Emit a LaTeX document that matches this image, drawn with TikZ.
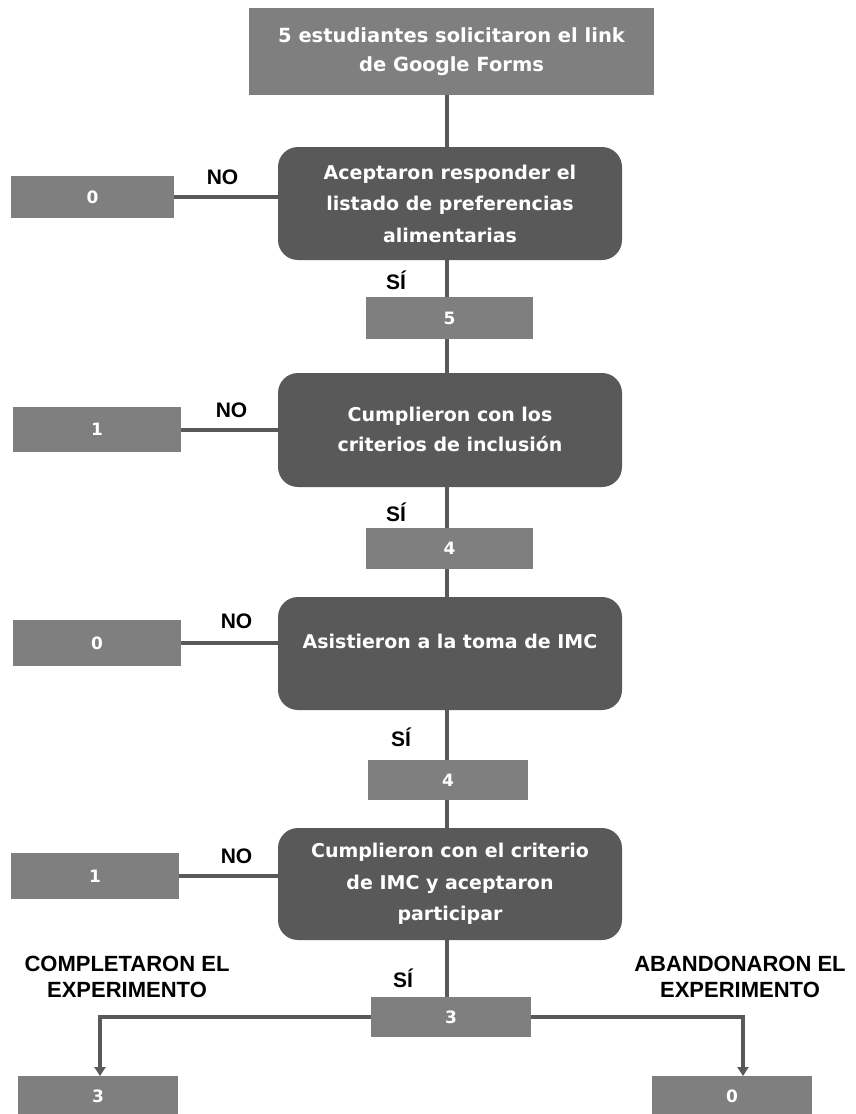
\documentclass[tikz,border=0pt]{standalone}
\usepackage{fontspec}
\setmainfont{DejaVu Sans}
\newfontfamily\arialfont{Liberation Sans}
\usetikzlibrary{arrows.meta}
\definecolor{boxgray}{HTML}{7F7F7F}
\definecolor{darkgray}{HTML}{595959}
\tikzset{
  lightbox/.style={fill=boxgray, draw=none, text=white, font=\bfseries\fontsize{17}{20}\selectfont, inner sep=0pt},
  topbox/.style={fill=boxgray, draw=none, text=white, font=\bfseries\fontsize{19.5}{29}\selectfont, align=center, inner sep=0pt},
  decision/.style={fill=darkgray, draw=none, rounded corners=20pt, text=white, font=\bfseries\fontsize{19}{31.5}\selectfont, align=center, inner sep=0pt},
  conn/.style={draw=darkgray, line width=4pt},
  lbl/.style={font=\arialfont\bfseries\fontsize{21}{24}\selectfont, text=black, inner sep=0pt},
  outlbl/.style={font=\arialfont\bfseries\fontsize{22}{26}\selectfont, text=black, align=center, inner sep=0pt},
  tip/.style={-{Triangle[length=9pt,width=11pt]}},
}
\newcommand{\pbox}[6]{% name, x1, y1, x2, y2, style
  \node[#6, minimum width={#4-#2}, minimum height={#5-#3}] (#1) at ({(#2+#4)/2},{(#3+#5)/2})}
\begin{document}
\begin{tikzpicture}[x=1pt,y=-1pt]
\useasboundingbox (0,0) rectangle (856,1114);
% main vertical connector (behind the boxes)
\coordinate (c0) at (447,95);
\coordinate (c1) at (447,1000);
\draw[conn] (c0) -- (c1);

\pbox{top}{249}{8}{654}{95}{topbox} {5 estudiantes solicitaron el link\\de Google Forms};

\pbox{d1}{278}{147}{622}{260}{decision} {Aceptaron responder el\\listado de preferencias\\alimentarias};
\pbox{l1}{11}{176}{174}{218}{lightbox} {0};
\pbox{s1}{366}{297}{533}{339}{lightbox} {5};

\pbox{d2}{278}{373}{622}{487}{decision} {\raisebox{22pt}{\begin{tabular}{@{}c@{}}Cumplieron con los\\[-1pt]criterios de inclusión\end{tabular}}};
\pbox{l2}{13}{407}{181}{452}{lightbox} {1};
\pbox{s2}{366}{528}{533}{569}{lightbox} {4};

\pbox{d3}{278}{597}{622}{710}{decision} {\raisebox{24pt}{Asistieron a la toma de IMC}};
\pbox{l3}{13}{620}{181}{666}{lightbox} {0};
\pbox{s3}{368}{760}{528}{800}{lightbox} {4};

\pbox{d4}{278}{828}{622}{940}{decision} {Cumplieron con el criterio\\de IMC y aceptaron\\participar};
\pbox{l4}{11}{853}{179}{899}{lightbox} {1};
\pbox{s4}{371}{997}{531}{1037}{lightbox} {3};

\pbox{b1}{18}{1076}{178}{1116}{lightbox} {3};
\pbox{b2}{652}{1076}{812}{1116}{lightbox} {0};

% NO connectors
\draw[conn] (l1.east) -- (l1.east -| d1.west);
\draw[conn] (l2.east) -- (l2.east -| d2.west);
\draw[conn] (l3.east) -- (l3.east -| d3.west);
\draw[conn] (l4.east) -- (l4.east -| d4.west);

% bottom branches
\coordinate (a1) at (100,1076);
\coordinate (a2) at (743,1076);
\draw[conn, tip] (s4.west) -| (a1);
\draw[conn, tip] (s4.east) -| (a2);

% labels
\node[lbl] (no1) at (222.5,177) {NO};
\node[lbl] (no2) at (231.5,410) {NO};
\node[lbl] (no3) at (236.5,621) {NO};
\node[lbl] (no4) at (236.5,856) {NO};
\node[lbl] (si1) at (396,280) {SÍ};
\node[lbl] (si2) at (396,512) {SÍ};
\node[lbl] (si3) at (401,737) {SÍ};
\node[lbl] (si4) at (403,978) {SÍ};

\node[outlbl] (comp) at (127,977) {COMPLETARON EL\\EXPERIMENTO};
\node[outlbl] (aban) at (740,977) {ABANDONARON EL\\EXPERIMENTO};
\end{tikzpicture}
\end{document}
